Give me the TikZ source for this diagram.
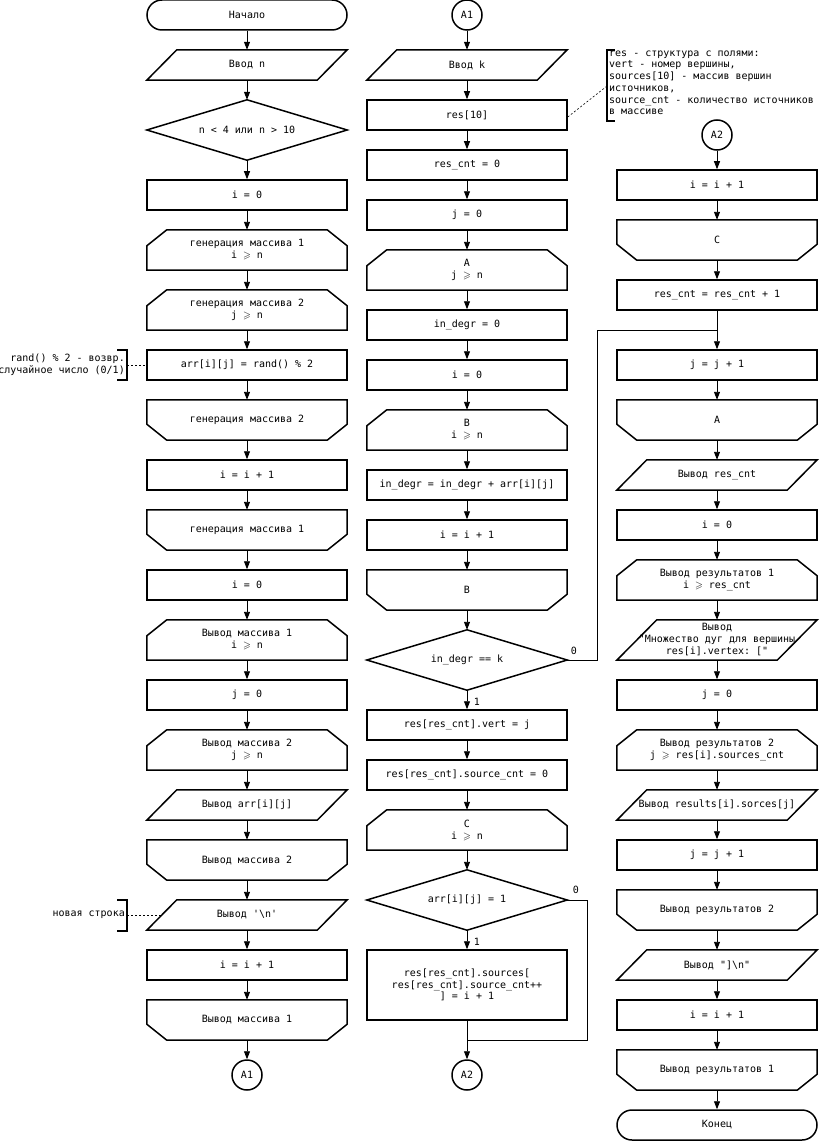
\documentclass[tikz,border=0pt]{standalone}
\usepackage{fontspec}
\usepackage{amssymb}
\setmonofont{DejaVu Sans Mono}
\usetikzlibrary{arrows.meta}
\newcommand\gq{\ensuremath{\geqslant}}
\newcommand\shpLB[1]{\draw[outl] (#1.south west) -- ([yshift=-16pt]#1.north west) -- ([xshift=20pt]#1.north west) -- ([xshift=-20pt]#1.north east) -- ([yshift=-16pt]#1.north east) -- (#1.south east) -- cycle;}
\newcommand\shpLE[1]{\draw[outl] (#1.north west) -- (#1.north east) -- ([yshift=16pt]#1.south east) -- ([xshift=-20pt]#1.south east) -- ([xshift=20pt]#1.south west) -- ([yshift=16pt]#1.south west) -- cycle;}
\newcommand\shpIO[2]{\draw[outl] (#1.south west) -- ([xshift=#2]#1.north west) -- (#1.north east) -- ([xshift=-#2]#1.south east) -- cycle;}
\newcommand\shpDec[1]{\draw[outl] (#1.west) -- (#1.north) -- (#1.east) -- (#1.south) -- cycle;}
\begin{document}
\begin{tikzpicture}[x=1pt,y=-1pt,
  txt/.style={font=\ttfamily\fontsize{10}{12}\selectfont},
  base/.style={txt, rectangle, minimum width=200pt, inner sep=0pt, align=center},
  proc/.style={base, draw, line width=1.5pt, minimum height=30pt},
  term/.style={base, draw, line width=1.5pt, minimum height=30pt, rounded corners=15pt},
  blk/.style={base, minimum height=#1},
  blk/.default=40pt,
  dec/.style={base, minimum height=60pt},
  conn/.style={txt, circle, draw, line width=1.5pt, minimum size=30pt, inner sep=0pt},
  outl/.style={line width=1.5pt, line join=miter},
  line/.style={line width=0.9pt},
  arr/.style={line width=0.9pt, -{Triangle[length=8pt,width=6pt]}},
  lbl/.style={txt, inner sep=0pt},
  note/.style={txt, inner sep=0pt},
  brk/.style={line width=1.3pt},
  dsh/.style={line width=0.6pt, dash pattern=on 2pt off 2pt}
]
\useasboundingbox (0,0) rectangle (819,1142);
% ---------- column 1 ----------
\node[term] (a0) at (247,15) {Начало};
\node[blk=30pt] (a1) at (247,65) {Ввод n};
\node[dec] (ad) at (247,130) {n < 4 или n > 10};
\node[proc] (a2) at (247,195) {i = 0};
\node[blk] (a3) at (247,250) {генерация массива 1\\i \gq\ n};
\node[blk] (a4) at (247,310) {генерация массива 2\\j \gq\ n};
\node[proc] (a5) at (247,365) {arr[i][j] = rand() \% 2};
\node[blk] (a6) at (247,420) {генерация массива 2};
\node[proc] (a7) at (247,475) {i = i + 1};
\node[blk] (a8) at (247,530) {генерация массива 1};
\node[proc] (a9) at (247,585) {i = 0};
\node[blk] (a10) at (247,640) {Вывод массива 1\\i \gq\ n};
\node[proc] (a11) at (247,695) {j = 0};
\node[blk] (a12) at (247,750) {Вывод массива 2\\j \gq\ n};
\node[blk=30pt] (a13) at (247,805) {Вывод arr[i][j]};
\node[blk] (a14) at (247,860) {Вывод массива 2};
\node[blk=30pt] (a15) at (247,915) {Вывод '\textbackslash n'};
\node[proc] (a16) at (247,965) {i = i + 1};
\node[blk] (a17) at (247,1020) {Вывод массива 1};
\node[conn] (a18) at (247,1075) {A1};
\shpIO{a1}{30pt}
\shpDec{ad}
\shpLB{a3}\shpLB{a4}\shpLE{a6}\shpLE{a8}
\shpLB{a10}\shpLB{a12}\shpIO{a13}{30pt}\shpLE{a14}\shpIO{a15}{30pt}\shpLE{a17}
\draw[arr] (a0) -- (a1);
\draw[arr] (a1) -- (ad);
\draw[arr] (ad) -- (a2);
\foreach \p/\q in {a2/a3,a3/a4,a4/a5,a5/a6,a6/a7,a7/a8,a8/a9,a9/a10,a10/a11,a11/a12,a12/a13,a13/a14,a14/a15,a15/a16,a16/a17,a17/a18}
  \draw[arr] (\p) -- (\q);
% notes column 1
\node[note, anchor=east, align=right] (n1) at (125,365) {rand() \% 2 - возвр.\\случайное число (0/1)};
\coordinate (n1a) at (117,350);
\coordinate (n1b) at (127,350);
\coordinate (n1c) at (127,380);
\coordinate (n1d) at (117,380);
\coordinate (n1m) at (127,365);
\draw[brk] (n1a) -- (n1b) -- (n1c) -- (n1d);
\draw[dsh] (n1m) -- (a5.west);
\node[note, anchor=east] (n2) at (125,915) {новая строка};
\coordinate (n2a) at (117,900);
\coordinate (n2b) at (127,900);
\coordinate (n2c) at (127,931);
\coordinate (n2d) at (117,931);
\coordinate (n2m) at (127,915);
\draw[brk] (n2a) -- (n2b) -- (n2c) -- (n2d);
\draw[dsh] (n2m) -- ([xshift=15pt]a15.west);
% ---------- column 2 ----------
\node[conn] (b0) at (467,15) {A1};
\node[blk=30pt] (b1) at (467,65) {Ввод k};
\node[proc] (b2) at (467,115) {res[10]};
\node[proc] (b3) at (467,165) {res\_cnt = 0};
\node[proc] (b4) at (467,215) {j = 0};
\node[blk] (b5) at (467,270) {A\\j \gq\ n};
\node[proc] (b6) at (467,325) {in\_degr = 0};
\node[proc] (b7) at (467,375) {i = 0};
\node[blk] (b8) at (467,430) {B\\i \gq\ n};
\node[proc] (b9) at (467,485) {in\_degr = in\_degr + arr[i][j]};
\node[proc] (b10) at (467,535) {i = i + 1};
\node[blk] (b11) at (467,590) {B};
\node[dec] (b12) at (467,660) {in\_degr == k};
\node[proc] (b13) at (467,725) {res[res\_cnt].vert = j};
\node[proc] (b14) at (467,775) {res[res\_cnt].source\_cnt = 0};
\node[blk] (b15) at (467,830) {C\\i \gq\ n};
\node[dec] (b16) at (467,900) {arr[i][j] = 1};
\node[proc, minimum height=70pt, font=\ttfamily\fontsize{10}{11.5}\selectfont] (b17) at (467,985) {res[res\_cnt].sources[\\res[res\_cnt].source\_cnt++\\] = i + 1};
\node[conn] (b18) at (467,1075) {A2};
\shpIO{b1}{30pt}
\shpLB{b5}\shpLB{b8}\shpLE{b11}\shpDec{b12}\shpLB{b15}\shpDec{b16}
\foreach \p/\q in {b0/b1,b1/b2,b2/b3,b3/b4,b4/b5,b5/b6,b6/b7,b7/b8,b8/b9,b9/b10,b10/b11,b11/b12,b12/b13,b13/b14,b14/b15,b15/b16,b16/b17,b17/b18}
  \draw[arr] (\p) -- (\q);
\node[lbl] (l1) at (574,651) {0};
\node[lbl] (l2) at (477,702) {1};
\node[lbl] (l3) at (576,890) {0};
\node[lbl] (l4) at (477,942) {1};
% note column 2/3
\node[note, anchor=north west, align=left, font=\ttfamily\fontsize{10}{11.7}\selectfont] (n3) at (609,50.5) {res - структура с полями:\\vert - номер вершины,\\sources[10] - массив вершин\\источников,\\source\_cnt - количество источников\\в массиве};
\coordinate (n3a) at (615,50);
\coordinate (n3b) at (607,50);
\coordinate (n3c) at (607,121);
\coordinate (n3d) at (615,121);
\coordinate (n3m) at (607,86);
\draw[brk] (n3a) -- (n3b) -- (n3c) -- (n3d);
\draw[dsh] ([yshift=-2pt]b2.east) -- (n3m);
% ---------- column 3 ----------
\node[conn] (c0) at (717,135) {A2};
\node[proc] (c1) at (717,185) {i = i + 1};
\node[blk] (c2) at (717,240) {C};
\node[proc] (c3) at (717,295) {res\_cnt = res\_cnt + 1};
\node[proc] (c4) at (717,365) {j = j + 1};
\node[blk] (c5) at (717,420) {A};
\node[blk=30pt] (c6) at (717,475) {Вывод res\_cnt};
\node[proc] (c7) at (717,525) {i = 0};
\node[blk] (c8) at (717,580) {Вывод результатов 1\\i \gq\ res\_cnt};
\node[blk] (c9) at (717,640) {Вывод\\"Множество дуг для вершины\\res[i].vertex: ["};
\node[proc] (c10) at (717,695) {j = 0};
\node[blk] (c11) at (717,750) {Вывод результатов 2\\j \gq\ res[i].sources\_cnt};
\node[blk=30pt] (c12) at (717,805) {Вывод results[i].sorces[j]};
\node[proc] (c13) at (717,855) {j = j + 1};
\node[blk] (c14) at (717,910) {Вывод результатов 2};
\node[blk=30pt] (c15) at (717,965) {Вывод "]\textbackslash n"};
\node[proc] (c16) at (717,1015) {i = i + 1};
\node[blk] (c17) at (717,1070) {Вывод результатов 1};
\node[term] (c18) at (717,1125) {Конец};
\shpLE{c2}\shpLE{c5}\shpIO{c6}{30pt}\shpLB{c8}\shpIO{c9}{40pt}\shpLB{c11}\shpIO{c12}{30pt}\shpLE{c14}\shpIO{c15}{30pt}\shpLE{c17}
\foreach \p/\q in {c0/c1,c1/c2,c2/c3,c3/c4,c4/c5,c5/c6,c6/c7,c7/c8,c8/c9,c9/c10,c10/c11,c11/c12,c12/c13,c13/c14,c14/c15,c15/c16,c16/c17,c17/c18}
  \draw[arr] (\p) -- (\q);
% ---------- branch connectors ----------
\coordinate (k1) at (597,330);
\coordinate (m1) at (717,330);
\draw[line] (b12.east) -| (k1) -- (m1);
\coordinate (k2) at (587,1040);
\coordinate (m2) at (467,1040);
\draw[line] (b16.east) -| (k2) -- (m2);
\end{tikzpicture}
\end{document}
